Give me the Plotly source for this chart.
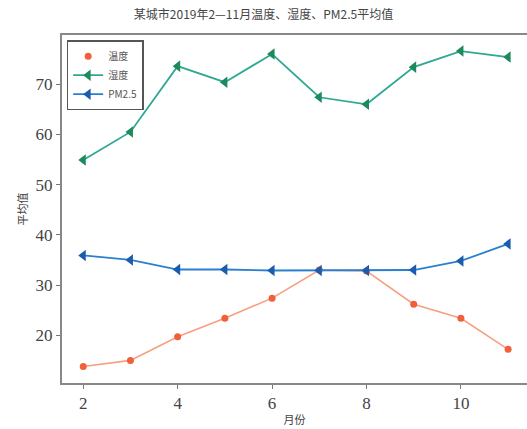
import plotly.graph_objects as go

months = [2, 3, 4, 5, 6, 7, 8, 9, 10, 11]
temperature = [13.8, 15.0, 19.7, 23.4, 27.4, 33.0, 32.8, 26.2, 23.4, 17.2]
humidity = [54.9, 60.5, 73.6, 70.4, 76.0, 67.4, 66.0, 73.4, 76.6, 75.4]
pm25 = [35.9, 35.0, 33.1, 33.1, 32.9, 32.9, 32.9, 33.0, 34.8, 38.2]

x_ticks = [2, 4, 6, 8, 10]
y_ticks = [20, 30, 40, 50, 60, 70]

cjk = "Noto Sans CJK SC"
serif = "'Liberation Serif', serif"

fig = go.Figure()

# temperature: connecting line drawn separately so the legend shows only the dot
fig.add_trace(go.Scatter(
    x=months, y=temperature, mode="lines",
    line=dict(color="#f7a080", width=1.6),
    showlegend=False, hoverinfo="skip",
))
fig.add_trace(go.Scatter(
    x=months, y=temperature, mode="markers", name="温度",
    marker=dict(symbol="circle", size=7, color="#f0603a"),
))
fig.add_trace(go.Scatter(
    x=months, y=humidity, mode="lines+markers", name="湿度",
    line=dict(color="#2fa893", width=1.8),
    marker=dict(symbol="triangle-left", size=10, color="#1c8a5c"),
))
fig.add_trace(go.Scatter(
    x=months, y=pm25, mode="lines+markers", name="PM2.5",
    line=dict(color="#2a7fd0", width=1.8),
    marker=dict(symbol="triangle-left", size=10, color="#1a5dae"),
))

fig.update_layout(
    width=527, height=429,
    margin=dict(l=62, r=0, t=35, b=46),
    paper_bgcolor="white", plot_bgcolor="white",
    title=dict(text="某城市2019年2—11月温度、湿度、PM2.5平均值",
               x=0.5, xanchor="center", y=0.965, yanchor="middle",
               font=dict(family=cjk, size=12, color="#444444")),
    legend=dict(x=0.01, y=0.985, xanchor="left", yanchor="top",
                bgcolor="white", bordercolor="#555555", borderwidth=1.5,
                font=dict(family=cjk, size=10, color="#555555"),
                itemwidth=30, tracegroupgap=0),
    showlegend=True,
)

fig.update_xaxes(
    range=[1.55, 11.4], tickvals=x_ticks,
    ticks="outside", ticklen=4, tickcolor="#777777",
    showline=True, linecolor="#888888", linewidth=2, mirror=True,
    showgrid=False, zeroline=False,
    tickfont=dict(family=serif, size=17, color="#444444"),
    title=dict(text="月份", font=dict(family=cjk, size=11, color="#444444"), standoff=4),
)
fig.update_yaxes(
    range=[10.5, 79.8], tickvals=y_ticks,
    ticks="outside", ticklen=4, tickcolor="#777777",
    showline=True, linecolor="#888888", linewidth=2, mirror=False,
    showgrid=False, zeroline=False,
    tickfont=dict(family=serif, size=17, color="#444444"),
    title=dict(text="平均值", font=dict(family=cjk, size=11, color="#444444"), standoff=6),
)

fig.write_html("out.html")
